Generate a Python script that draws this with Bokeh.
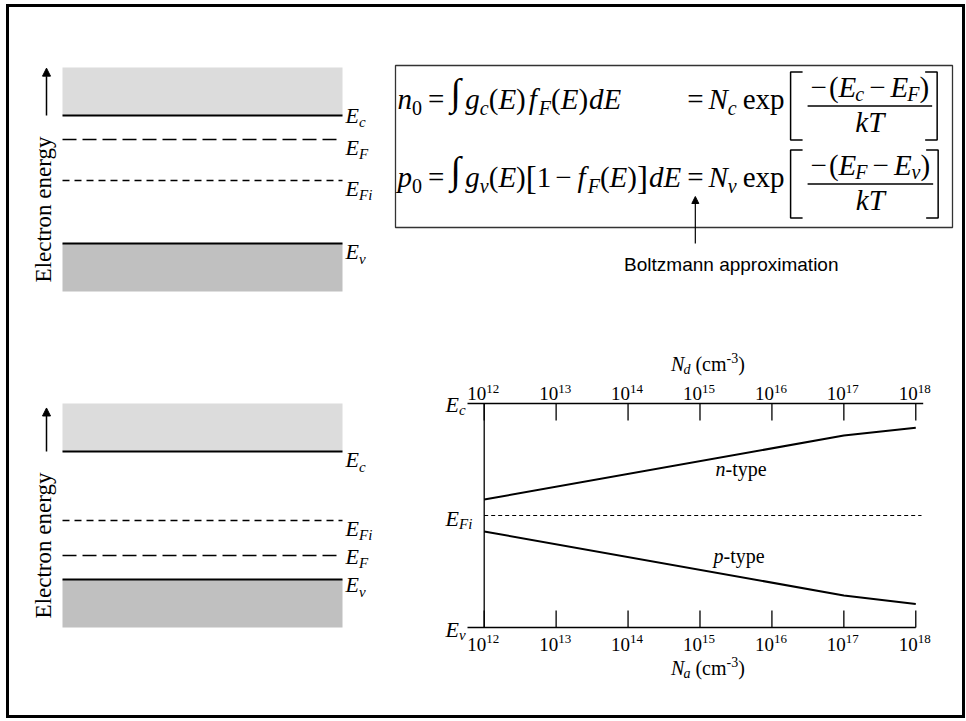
import math
from bokeh.plotting import figure
from bokeh.models import (Range1d, Arrow, NormalHead, LogScale,
                          Div, Spacer, ColumnDataSource)
from bokeh.layouts import row, column
from bokeh.core.properties import value, field
from bokeh.embed import file_html
from bokeh.resources import INLINE

SERIF = "Liberation Serif"
SANS = "Liberation Sans"
MID = 0.34      # distance (em) from alphabetic baseline up to the "middle" anchor

# ------------------------------------------------------------------ data
# Band diagram, n-type semiconductor (energies measured from Ev = 0, Ec = 1)
n_level_names = ["c", "F", "Fi", "v"]
n_level_values = [1.0, 0.8125, 0.492, 0.0]
# Band diagram, p-type semiconductor
p_level_names = ["c", "Fi", "F", "v"]
p_level_values = [1.0, 0.461, 0.1875, 0.0]
band_top = 1.375
band_bottom = -0.375

# Fermi level position versus doping (log10 of Nd or Na, in cm^-3)
doping_exp = [12, 17, 18]
n_type_EF = [0.571, 0.857, 0.892]
p_type_EF = [0.429, 0.143, 0.105]
EFi_level = 0.5
Ev_level, Ec_level = 0.0, 1.0
tick_exps = [12, 13, 14, 15, 16, 17, 18]

# ------------------------------------------------------------------ helpers
LEVEL_STYLE = {"c": (2.0, "solid"), "v": (2.0, "solid"),
               "F": (1.6, "14 6"), "Fi": (1.5, "7 5")}
PX, PY = 280.0, 128.0
SPLIT = 340          # screen row where the upper and lower panels meet


def blank_fig(w, h, xr, yr, **kw):
    p = figure(width=w, height=h, x_range=xr, y_range=yr, title=None,
               x_axis_location=None, y_axis_location=None,
               toolbar_location=None, output_backend="svg",
               outline_line_color=None, min_border=0, **kw)
    p.grid.grid_line_color = None
    p.background_fill_color = "white"
    p.border_fill_color = "white"
    return p


def band_figure(w, h, left_sx, top_sy, ec_sy, names, values, label_dy, arrow_top):
    x0 = -(62 - left_sx) / PX
    y1 = 1 + (ec_sy - top_sy) / PY
    p = blank_fig(w, h, Range1d(x0, x0 + w / PX), Range1d(y1 - h / PY, y1))
    ec = values[names.index("c")]
    ev = values[names.index("v")]
    p.quad(left=[0], right=[1], bottom=[ec], top=[band_top],
           fill_color="#dcdcdc", line_color=None)
    p.quad(left=[0], right=[1], bottom=[band_bottom], top=[ev],
           fill_color="#c0c0c0", line_color=None)
    for nm, v, dy in zip(names, values, label_dy):
        lw, dash = LEVEL_STYLE[nm]
        p.line(x=[0, 1], y=[v, v], line_color="black", line_width=lw, line_dash=dash)
        p.text(x=[(345 - 62) / PX], y=[v - (dy - MID * 22) / PY], text=["E"],
               text_font=value(SERIF), text_font_size="22px", text_font_style="italic",
               text_baseline="middle", text_align="left", text_color="black")
        p.text(x=[(358.5 - 62) / PX], y=[v - (dy + 5 - MID * 15) / PY], text=[nm],
               text_font=value(SERIF), text_font_size="15px", text_font_style="italic",
               text_baseline="middle", text_align="left", text_color="black")
    p.text(x=[(43 - 62) / PX], y=[ev + 34 / PY], text=["Electron energy"],
           angle=math.pi / 2, text_font=value(SERIF), text_font_size="23px",
           text_align="center", text_baseline="middle", text_color="black")
    ax = (46 - 62) / PX
    p.add_layout(Arrow(end=NormalHead(size=8, fill_color="black", line_color="black"),
                       x_start=ax, y_start=ec, x_end=ax, y_end=arrow_top,
                       line_color="black", line_width=1.5))
    return p


# ------------------------------------------------------------------ band diagrams
b1 = band_figure(381, SPLIT - 7, 9, 7, 115, n_level_names, n_level_values,
                 [7, 15, 15, 15.3], 1.37)
b2 = band_figure(416, 715 - SPLIT, 9, SPLIT, 451, p_level_names, p_level_values,
                 [15.7, 15, 8, 12.7], 1.34)

# ------------------------------------------------------------------ equations
REG = {"(": .333, ")": .333, "[": .333, "]": .333, "=": .564, "\u2212": .564, "-": .333,
       "0": .5, "1": .5, "3": .5, "e": .444, "x": .5, "p": .5, " ": .25, "c": .444,
       "m": .778, "t": .278, "y": .5}
ITA = {"E": .611, "F": .611, "N": .667, "T": .556, "c": .444, "d": .5, "f": .278,
       "g": .5, "k": .444, "n": .5, "p": .5, "v": .444, "i": .278, "a": .5}


def twidth(s, style, size):
    tab = ITA if style == "italic" else REG
    return sum(tab.get(ch, 0.5) for ch in s) * size


M, S, SUB, INT, BR = 29, 20, 6, 38, 33
INT_DY = -4


def I(s, size=M, dy=0, gap=0, w=None):
    return (s, "italic", size, dy, gap, w)


def R(s, size=M, dy=0, gap=0, w=None):
    return (s, "normal", size, dy, gap, w)


def lay(tokens, x):
    out = []
    for txt, sty, size, dy, gap, w in tokens:
        x += gap
        out.append((x, dy, txt, sty, size))
        x += w if w is not None else twidth(txt, sty, size)
    return out, x


eq_x, eq_y, eq_t, eq_s, eq_f = [], [], [], [], []


def emit(items, baseline):
    for x, dy, txt, sty, size in items:
        eq_x.append(x)
        eq_y.append(baseline + dy - MID * size)
        eq_t.append(txt)
        eq_s.append(sty)
        eq_f.append(f"{size}px")


X0 = 397
A1, A2 = 105.5, 183.5
BASE = 3

row2_left = [I("p"), R("0", S, SUB), R("=", gap=6), R("\u222b", INT, INT_DY, gap=6, w=12),
             I("g", gap=3), I("v", S, SUB), R("("), I("E"), R(")"), R("[", BR, 2),
             R("1"), R("\u2212", gap=4), I("f", gap=6), I("F", S, SUB, gap=2),
             R("("), I("E"), R(")"), R("]", BR, 2), I("d", gap=1), I("E")]
items, x = lay(row2_left, X0)
emit(items, A2 + BASE)
x_eq = x + 6

row1_left = [I("n"), R("0", S, SUB), R("=", gap=6), R("\u222b", INT, INT_DY, gap=6, w=12),
             I("g", gap=3), I("c", S, SUB), R("("), I("E"), R(")"), I("f", gap=3),
             I("F", S, SUB, gap=2), R("("), I("E"), R(")"), I("d", gap=1), I("E")]
items, _ = lay(row1_left, X0)
emit(items, A1 + BASE)

NSUB = 4
num_rows = {
    A1: ("c", [R("\u2212"), R("(", gap=2), I("E"), I("c", S, NSUB, gap=-1), R("\u2212", gap=5),
               I("E", gap=5), I("F", S, NSUB, gap=-1), R(")")]),
    A2: ("v", [R("\u2212"), R("(", gap=2), I("E"), I("F", S, NSUB, gap=-1), R("\u2212", gap=5),
               I("E", gap=5), I("v", S, NSUB), R(")")]),
}
br_x, br_y = [], []
bar_x0, bar_x1, bar_y = [], [], []
for A, (nsub, num) in num_rows.items():
    items, x = lay([R("="), I("N", gap=5), I(nsub, S, SUB), R("exp", gap=6)], x_eq)
    emit(items, A + BASE)
    bl = x + 6
    br_x.append([bl + 12, bl, bl, bl + 12])
    br_y.append([A - 34, A - 34, A + 34, A + 34])
    f0 = bl + 17
    nitems, nw = lay(num, 0)
    ditems, dw = lay([I("k"), I("T")], 0)
    fw = max(nw, dw) + 6
    emit([(f0 + (fw - nw) / 2 + xx, dy, t, s, z) for xx, dy, t, s, z in nitems], A - 9)
    emit([(f0 + (fw - dw) / 2 + xx, dy, t, s, z) for xx, dy, t, s, z in ditems], A + 26)
    bar_x0.append(f0)
    bar_x1.append(f0 + fw)
    bar_y.append(A)
    brr = f0 + fw + 5
    br_x.append([brr - 12, brr, brr, brr - 12])
    br_y.append([A - 34, A - 34, A + 34, A + 34])

eq = blank_fig(572, SPLIT - 7, Range1d(390, 962), Range1d(SPLIT, 7))
eq.quad(left=[395], right=[952], top=[65], bottom=[227], fill_color=None,
        line_color="#333333", line_width=1.3)
eq.text(x="x", y="y", text="t", source=ColumnDataSource(dict(x=eq_x, y=eq_y, t=eq_t, s=eq_s, f=eq_f)),
        text_font=value(SERIF), text_font_size=field("f"), text_font_style=field("s"),
        text_baseline="middle", text_align="left", text_color="black")
eq.multi_line(xs=br_x, ys=br_y, line_color="black", line_width=1.5)
eq.segment(x0=bar_x0, x1=bar_x1, y0=bar_y, y1=bar_y, line_color="black", line_width=1.3)
arrow_x = x_eq + twidth("=", "normal", M) / 2
eq.add_layout(Arrow(end=NormalHead(size=7, fill_color="black", line_color="black"),
                    x_start=arrow_x, y_start=243, x_end=arrow_x, y_end=196,
                    line_color="black", line_width=1.2))
eq.text(x=[838], y=[271 - 0.3465 * 19], text=["Boltzmann approximation"], text_font=value(SANS),
        text_font_size="19px", text_baseline="middle", text_align="right", text_color="black")

# ------------------------------------------------------------------ Fermi level chart
FT, FB = 403.0, 627.0          # screen rows of Ec and Ev in the chart
DEC = 71.93                    # pixels per decade
X12 = 483.7                    # screen column of 10^12


def cy(sy):
    return Ev_level + (FB - sy) / (FB - FT) * (Ec_level - Ev_level)


def cx(sx):
    return 10 ** (tick_exps[0] + (sx - X12) / DEC)


chart = figure(width=537, height=715 - SPLIT, title=None,
               x_range=Range1d(cx(425), cx(962)), y_range=Range1d(cy(715), cy(SPLIT)),
               x_axis_location=None, y_axis_location=None, min_border=0,
               toolbar_location=None, output_backend="svg", outline_line_color=None)
chart.x_scale = LogScale()
chart.grid.grid_line_color = None
tick_vals = [10.0 ** e for e in tick_exps]
TICK = 17 / (FB - FT)

# axes: top (Nd) and bottom (Na) log axes, drawn on the log scale
axis_lo = cx(467)
chart.segment(x0=[axis_lo, axis_lo], x1=[cx(922.7), tick_vals[-1]], y0=[Ec_level, Ev_level],
              y1=[Ec_level, Ev_level], line_color="black", line_width=1.3)
chart.segment(x0=tick_vals, x1=tick_vals, y0=[Ec_level] * len(tick_vals),
              y1=[Ec_level - TICK] * len(tick_vals), line_color="black", line_width=1.3)
chart.segment(x0=tick_vals, x1=tick_vals, y0=[Ev_level] * len(tick_vals),
              y1=[Ev_level + TICK] * len(tick_vals), line_color="black", line_width=1.3)
chart.segment(x0=[tick_vals[0]], x1=[tick_vals[0]], y0=[Ev_level], y1=[Ec_level],
              line_color="black", line_width=1.3)

chart.line(x=[tick_vals[0], cx(921)], y=[EFi_level, EFi_level], line_color="black",
           line_width=1, line_dash="4 3")
chart.line(x=[10.0 ** e for e in doping_exp], y=n_type_EF, line_color="black", line_width=2)
chart.line(x=[10.0 ** e for e in doping_exp], y=p_type_EF, line_color="black", line_width=2)


def ctext(lx, base_sy, texts, size, style="normal", align="left", xoff=0):
    n = len(texts)
    chart.text(x=lx if isinstance(lx, list) else [lx] * n,
               y=[cy(base_sy - MID * size)] * n, text=texts,
               x_offset=xoff, text_font=value(SERIF), text_font_size=f"{size}px",
               text_font_style=style, text_align=align, text_baseline="middle",
               text_color="black")


# tick labels 10^n
for b10, bsup in ((399.3, 392.7), (650.0, 643.3)):
    ctext(tick_vals, b10, ["10"] * len(tick_vals), 19, align="right", xoff=2)
    ctext(tick_vals, bsup, [str(e) for e in tick_exps], 13, xoff=2)

# axis titles N_d (cm^-3) and N_a (cm^-3)
for sub, base in (("d", 370.0), ("a", 674.0)):
    parts = [("N", "italic", 20, 0, 0), (sub, "italic", 14, 4, -1),
             ("(cm", "normal", 20, 0, 5), ("-3", "normal", 14, -8, 0), (")", "normal", 20, 0, 0)]
    total = sum(twidth(t, s, z) + g for t, s, z, d, g in parts)
    off = 8 - total / 2
    for t, s, z, d, g in parts:
        off += g
        ctext(tick_vals[3], base + d, [t], z, style=s, xoff=off)
        off += twidth(t, s, z)

# left energy labels
for sub, base in (("c", 411.0), ("Fi", 525.0), ("v", 636.0)):
    ctext(tick_vals[0], base, ["E"], 22, style="italic", xoff=-38.7)
    ctext(tick_vals[0], base + 4, [sub], 15, style="italic", xoff=-38.7 + 13.5)

# curve labels
for lead, lx, lb in (("n", cx(715), 475.0), ("p", cx(713), 562.0)):
    ctext(lx, lb, [lead], 20, style="italic")
    ctext(lx, lb, ["-type"], 20, xoff=10)

# ------------------------------------------------------------------ layout with frame


def bar(w, h):
    return Div(text="", width=w, height=h, margin=0,
               styles={"background-color": "black"})


inner = column(row(b1, eq), row(b2, chart))
framed = column(bar(959, 3), row(bar(3, 708), inner, bar(3, 708)), bar(959, 3))
page = column(Spacer(width=965, height=4, margin=0),
              row(Spacer(width=6, height=714, margin=0), framed))

open("out.html", "w").write(file_html(page, INLINE))
